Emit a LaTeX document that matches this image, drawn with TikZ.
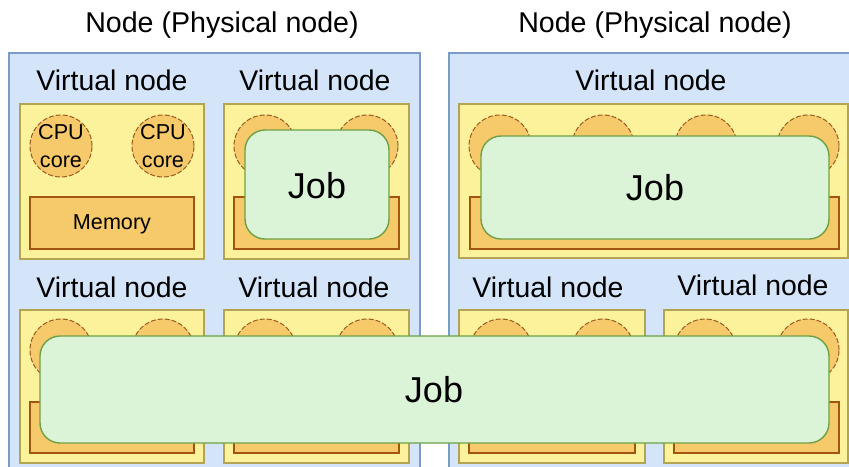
\documentclass[tikz,border=0pt]{standalone}
\usepackage{fontspec}
\setmainfont{Liberation Sans}
\usepackage{xcolor}
\usetikzlibrary{positioning}

\definecolor{physfill}{HTML}{D4E5FA}
\definecolor{physedge}{HTML}{7C9CC8}
\definecolor{vnfill}{HTML}{FBF29B}
\definecolor{vnedge}{HTML}{B3A453}
\definecolor{corefill}{HTML}{F6C96B}
\definecolor{coreedge}{HTML}{9A5B22}
\definecolor{memedge}{HTML}{A35410}
\definecolor{jobfill}{HTML}{DBF4D8}
\definecolor{jobedge}{HTML}{6FA143}

\begin{document}
\begin{tikzpicture}[x=0.5pt, y=-0.5pt,
    physbox/.style={fill=physfill, draw=physedge, line width=0.8pt},
    vnbox/.style={fill=vnfill, draw=vnedge, line width=0.6pt},
    corebox/.style={fill=corefill, draw=coreedge, line width=0.5pt, dash pattern=on 2.5pt off 1pt},
    membox/.style={fill=corefill, draw=memedge, line width=0.8pt},
    jobbox/.style={fill=jobfill, draw=jobedge, line width=0.7pt, rounded corners=10pt},
    titlelbl/.style={font=\fontsize{14.3}{17}\selectfont},
    vnlbl/.style={font=\fontsize{14.2}{17}\selectfont},
    joblbl/.style={font=\fontsize{18}{21}\selectfont},
    smalllbl/.style={font=\fontsize{10.8}{14}\selectfont, align=center}]
    \useasboundingbox (0,0) rectangle (849,466);
    \clip (0,0) rectangle (849,466);

    % Physical nodes (blue)
    \draw[physbox] (9,53) rectangle (420,480);
    \draw[physbox] (449,53) rectangle (870,480);
    \node[titlelbl] (phys1) at (222,25) {Node (Physical node)};
    \node[titlelbl] (phys2) at (655,25) {Node (Physical node)};

    % Left node, top left virtual node
    \draw[vnbox] (20,104) rectangle (204,259);
    \draw[corebox] (61,146) circle[radius=15.5pt];
    \draw[corebox] (163,146) circle[radius=15.5pt];
    \draw[membox] (30,197) rectangle (194,249);
    \node[vnlbl] (vn1) at (112,80) {Virtual node};
    \node[smalllbl] (cpu1) at (61,146) {CPU\\core};
    \node[smalllbl] (cpu2) at (163,146) {CPU\\core};
    \node[smalllbl] (mem1) at (112,224) {Memory};

    % Left node, top right virtual node
    \draw[vnbox] (224,104) rectangle (409,259);
    \draw[corebox] (265,146) circle[radius=15.5pt];
    \draw[corebox] (367,146) circle[radius=15.5pt];
    \draw[membox] (234,197) rectangle (399,249);
    \node[vnlbl] (vn2) at (315,80) {Virtual node};

    % Left node, bottom virtual nodes
    \draw[vnbox] (20,310) rectangle (204,463);
    \draw[corebox] (61,350) circle[radius=15.5pt];
    \draw[corebox] (163,350) circle[radius=15.5pt];
    \draw[membox] (30,402) rectangle (194,453);
    \node[vnlbl] (vn3) at (112,287) {Virtual node};

    \draw[vnbox] (224,310) rectangle (409,463);
    \draw[corebox] (265,350) circle[radius=15.5pt];
    \draw[corebox] (367,350) circle[radius=15.5pt];
    \draw[membox] (234,402) rectangle (399,453);
    \node[vnlbl] (vn4) at (314,287) {Virtual node};

    % Right node, top virtual node (four cores)
    \draw[vnbox] (459,104) rectangle (848,258);
    \foreach \cx in {500,603,706,808}
        \draw[corebox] (\cx,146) circle[radius=15.5pt];
    \draw[membox] (470,197) rectangle (839,249);
    \node[vnlbl] (vn5) at (651,80) {Virtual node};

    % Right node, bottom virtual nodes
    \draw[vnbox] (459,310) rectangle (645,463);
    \draw[corebox] (501,350) circle[radius=15.5pt];
    \draw[corebox] (603,350) circle[radius=15.5pt];
    \draw[membox] (469,402) rectangle (635,453);
    \node[vnlbl] (vn6) at (548,287) {Virtual node};

    \draw[vnbox] (664,310) rectangle (848,463);
    \draw[corebox] (705,350) circle[radius=15.5pt];
    \draw[corebox] (808,350) circle[radius=15.5pt];
    \draw[membox] (674,402) rectangle (839,453);
    \node[vnlbl] (vn7) at (753,285) {Virtual node};

    % Jobs (green)
    \draw[jobbox] (245,130) rectangle (389,239);
    \node[joblbl] (job1) at (317,186) {Job};
    \draw[jobbox] (481,136) rectangle (829,239);
    \node[joblbl] (job2) at (655,188) {Job};
    \draw[jobbox] (40,336) rectangle (829,443);
    \node[joblbl] (job3) at (434,390) {Job};
\end{tikzpicture}
\end{document}
